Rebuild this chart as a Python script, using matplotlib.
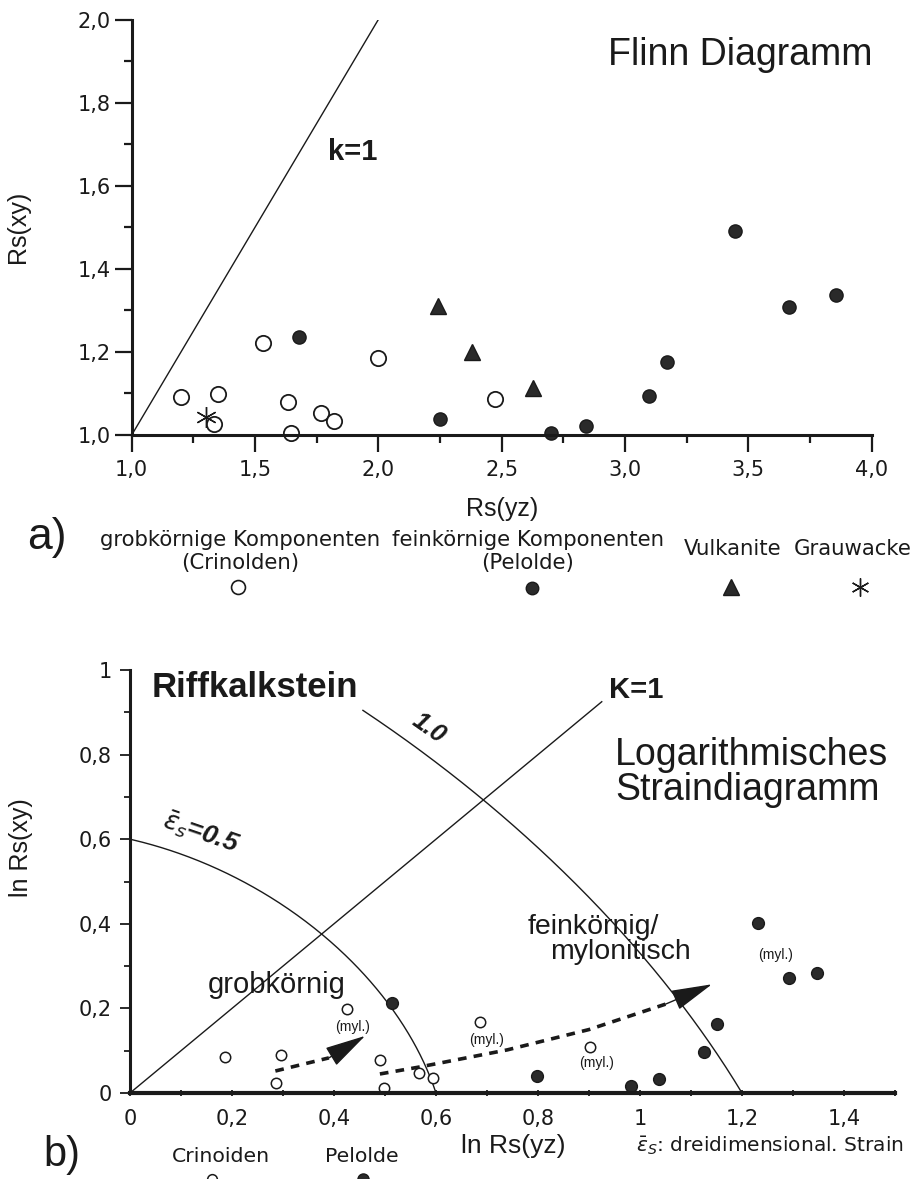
import numpy as np
import matplotlib.pyplot as plt
from matplotlib.ticker import MultipleLocator

plt.rcParams['font.family'] = ['Liberation Sans', 'DejaVu Sans']
plt.rcParams['mathtext.fontset'] = 'dejavusans'

# ---- a) Flinn diagram data (read from the figure)
grob_x = [1.20, 1.351, 1.335, 1.534, 1.635, 1.646, 1.767, 1.820, 2.0, 2.473]
grob_y = [1.092, 1.098, 1.026, 1.222, 1.080, 1.006, 1.052, 1.034, 1.186, 1.086]
fein_x = [1.678, 2.25, 2.700, 2.842, 3.097, 3.171, 3.446, 3.663, 3.854]
fein_y = [1.236, 1.038, 1.004, 1.022, 1.094, 1.176, 1.490, 1.307, 1.337]
vulk_x = [2.240, 2.381, 2.628]
vulk_y = [1.310, 1.199, 1.114]
grau_x = [1.301]
grau_y = [1.044]

top_xticks = [1.0, 1.5, 2.0, 2.5, 3.0, 3.5, 4.0]
top_xlabels = ['1,0', '1,5', '2,0', '2,5', '3,0', '3,5', '4,0']
top_yticks = [1.0, 1.2, 1.4, 1.6, 1.8, 2.0]
top_ylabels = ['1,0', '1,2', '1,4', '1,6', '1,8', '2,0']

# ---- b) logarithmic strain diagram data
crin_x = [0.186, 0.297, 0.286, 0.426, 0.490, 0.498, 0.567, 0.595, 0.686, 0.901]
crin_y = [0.084, 0.090, 0.024, 0.199, 0.078, 0.013, 0.048, 0.035, 0.169, 0.108]
pel_x = [0.513, 0.798, 0.983, 1.037, 1.125, 1.150, 1.232, 1.293, 1.348]
pel_y = [0.212, 0.040, 0.016, 0.033, 0.098, 0.162, 0.403, 0.272, 0.284]

# trend paths (dashed, last point = arrow tip)
trend1_x = [0.285, 0.39, 0.461]
trend1_y = [0.052, 0.083, 0.135]
trend2_x = [0.49, 0.57, 0.74, 0.90, 1.05, 1.141]
trend2_y = [0.045, 0.062, 0.102, 0.150, 0.210, 0.257]

# strain contours: axis intercept, shape term, start x
strain_labels = ['0.5', '1.0']
strain_axis = [0.6, 1.2]
strain_shape = [0.55, 1.0]
strain_start = [0.0, 0.456]
k_line_end = 0.925

myl_x = [0.437, 0.699, 0.914, 1.265]
myl_y = [0.157, 0.125, 0.071, 0.326]

bot_xticks = [0, 0.2, 0.4, 0.6, 0.8, 1.0, 1.2, 1.4]
bot_xlabels = ['0', '0,2', '0,4', '0,6', '0,8', '1', '1,2', '1,4']
bot_yticks = [0, 0.2, 0.4, 0.6, 0.8, 1.0]
bot_ylabels = ['0', '0,2', '0,4', '0,6', '0,8', '1']

W, H = 921, 1179
fig = plt.figure(figsize=(W / 100, H / 100), dpi=100)
ink = '#1a1a1a'
legfont = 'DejaVu Sans'

# ================= a) =================
ax1 = fig.add_axes([131.7 / W, 1 - 435 / H, 740 / W, 415.5 / H])
ax1.set_xlim(1, 4)
ax1.set_ylim(1, 2)
for s in ['top', 'right']:
    ax1.spines[s].set_visible(False)
for s in ['left', 'bottom']:
    ax1.spines[s].set_linewidth(2.2)
    ax1.spines[s].set_color(ink)
ax1.set_xticks(top_xticks)
ax1.set_xticklabels(top_xlabels)
ax1.set_yticks(top_yticks)
ax1.set_yticklabels(top_ylabels)
ax1.xaxis.set_minor_locator(MultipleLocator(0.25))
ax1.yaxis.set_minor_locator(MultipleLocator(0.1))
ax1.tick_params(which='major', length=12, width=1.6, color=ink,
                labelsize=15, labelcolor=ink)
ax1.tick_params(which='minor', length=6, width=1.6, color=ink)
ax1.tick_params(axis='x', pad=6)
ax1.tick_params(axis='y', pad=3)
for lab in ax1.get_xticklabels() + ax1.get_yticklabels():
    lab.set_family(legfont)

ax1.plot([1, 2], [1, 2], color=ink, lw=1.0)
ax1.plot(grob_x, grob_y, 'o', ms=11, mfc='white', mec=ink, mew=1.3, clip_on=False)
ax1.plot(fein_x, fein_y, 'o', ms=9.5, mfc='#2a2a2a', mec=ink, mew=1, clip_on=False)
ax1.plot(vulk_x, vulk_y, '^', ms=12, mfc='#2a2a2a', mec=ink, mew=1, clip_on=False)
ax1.plot(grau_x, grau_y, marker=(6, 2, 0), ls='none', ms=15, mec=ink, mew=1.0)

ax1.text(1.897, 1.680, 'k=1', fontsize=21, fontweight='bold', ha='center',
         va='center', color=ink)
ax1.text(3.466, 1.915, 'Flinn Diagramm', fontsize=27, ha='center', va='center',
         color=ink)
ax1.set_xlabel('Rs(yz)', fontsize=18, color=ink, labelpad=12)
ax1.set_ylabel('Rs(xy)', fontsize=18, color=ink)
ax1.yaxis.set_label_coords(-0.138, 0.5)

# legend a)
fig.text(47 / W, 1 - 538 / H, 'a)', fontsize=32, ha='center', va='center', color=ink)
leg_a = [(240, 'grobkörnige Komponenten', '(Crinolden)'),
         (528, 'feinkörnige Komponenten', '(Pelolde)')]
for x, l1, l2 in leg_a:
    fig.text(x / W, 1 - 540 / H, l1, fontsize=15.3, ha='center', va='center',
             family=legfont, color=ink)
    fig.text(x / W, 1 - 563 / H, l2, fontsize=15.3, ha='center', va='center',
             family=legfont, color=ink)
fig.text(733 / W, 1 - 549 / H, 'Vulkanite', fontsize=15.3, ha='center', va='center',
         family=legfont, color=ink)
fig.text(853 / W, 1 - 549 / H, 'Grauwacke', fontsize=15.3, ha='center', va='center',
         family=legfont, color=ink)
fig.lines.extend([
    plt.Line2D([238 / W], [1 - 587 / H], marker='o', ms=10, mfc='white', mec=ink,
               mew=1.2, transform=fig.transFigure),
    plt.Line2D([532 / W], [1 - 588 / H], marker='o', ms=9, mfc='#2a2a2a', mec=ink,
               transform=fig.transFigure),
    plt.Line2D([731 / W], [1 - 587 / H], marker='^', ms=11, mfc='#2a2a2a', mec=ink,
               transform=fig.transFigure),
    plt.Line2D([860 / W], [1 - 587 / H], marker=(6, 2, 0), ms=13, mec=ink, mew=1,
               transform=fig.transFigure),
])

# ================= b) =================
ax2 = fig.add_axes([130 / W, 1 - 1093 / H, 765 / W, 423 / H])
ax2.set_xlim(0, 1.5)
ax2.set_ylim(0, 1.0)
for s in ['top', 'right']:
    ax2.spines[s].set_visible(False)
ax2.spines['left'].set_linewidth(2.2)
ax2.spines['bottom'].set_linewidth(3.0)
ax2.spines['left'].set_color(ink)
ax2.spines['bottom'].set_color(ink)
ax2.set_xticks(bot_xticks)
ax2.set_xticklabels(bot_xlabels)
ax2.set_yticks(bot_yticks)
ax2.set_yticklabels(bot_ylabels)
ax2.xaxis.set_minor_locator(MultipleLocator(0.1))
ax2.yaxis.set_minor_locator(MultipleLocator(0.1))
ax2.tick_params(axis='y', which='major', length=7, width=1.3, color=ink, pad=6)
ax2.tick_params(axis='y', which='minor', length=4, width=1.3, color=ink)
ax2.tick_params(axis='x', which='both', direction='inout', length=5, width=1.3,
                color=ink, pad=9)
ax2.tick_params(which='major', labelsize=15, labelcolor=ink)
for lab in ax2.get_xticklabels() + ax2.get_yticklabels():
    lab.set_family(legfont)

# K=1 line
ax2.plot([0, k_line_end], [0, k_line_end], color=ink, lw=1.0)
# strain contours  x^2 + k*x*y + y^2 = R^2
t = np.linspace(0, np.pi / 2, 300)
for R, k, x0 in zip(strain_axis, strain_shape, strain_start):
    r = R / np.sqrt(1 + k * np.cos(t) * np.sin(t))
    cx, cy = r * np.cos(t), r * np.sin(t)
    m = cx >= x0
    ax2.plot(cx[m], cy[m], color=ink, lw=1.0)

ax2.text(0.14, 0.617, r'$\bar{\epsilon}_s$=' + strain_labels[0], fontsize=19,
         fontweight='bold', style='italic', rotation=-19, ha='center',
         va='center', color=ink)
ax2.text(0.585, 0.862, strain_labels[1], fontsize=18, fontweight='bold',
         style='italic', rotation=-35, ha='center', va='center', color=ink)
ax2.text(0.992, 0.953, 'K=1', fontsize=21, fontweight='bold', ha='center',
         va='center', color=ink)
ax2.text(0.043, 0.958, 'Riffkalkstein', fontsize=25, fontweight='bold',
         ha='left', va='center', color=ink)
ax2.text(0.951, 0.800, 'Logarithmisches', fontsize=27, ha='left', va='center',
         color=ink)
ax2.text(0.951, 0.716, 'Straindiagramm', fontsize=27, ha='left', va='center',
         color=ink)
ax2.text(0.288, 0.255, 'grobkörnig', fontsize=21, ha='center', va='center',
         color=ink)
ax2.text(0.780, 0.392, 'feinkörnig/', fontsize=20.5, ha='left', va='center',
         color=ink)
ax2.text(0.8235, 0.333, 'mylonitisch', fontsize=20.5, ha='left', va='center',
         color=ink)
for x, y in zip(myl_x, myl_y):
    ax2.text(x, y, '(myl.)', fontsize=10, ha='center', va='center', color=ink)

ax2.plot(crin_x, crin_y, 'o', ms=7.5, mfc='white', mec=ink, mew=1.1, clip_on=False)
ax2.plot(pel_x, pel_y, 'o', ms=8.5, mfc='#2a2a2a', mec=ink, mew=1, clip_on=False)

for tx, ty in [(trend1_x, trend1_y), (trend2_x, trend2_y)]:
    ax2.plot(tx[:-1], ty[:-1], color=ink, lw=2.6, dashes=(2.4, 2.0))
    ax2.annotate('', xy=(tx[-1], ty[-1]), xytext=(tx[-2], ty[-2]),
                 arrowprops=dict(arrowstyle='-|>,head_length=1.3,head_width=0.33',
                                 mutation_scale=20, color=ink, lw=1,
                                 shrinkA=0, shrinkB=0))

ax2.set_ylabel('ln Rs(xy)', fontsize=18, color=ink)
ax2.yaxis.set_label_coords(-0.127, 0.58)
fig.text(513 / W, 1 - 1146 / H, 'ln Rs(yz)', fontsize=19, ha='center', va='center',
         color=ink)
fig.text(770 / W, 1 - 1146 / H, r'$\bar{\epsilon}_S$: dreidimensional. Strain',
         fontsize=14.5, ha='center', va='center', family=legfont, color=ink)
fig.text(62 / W, 1 - 1155 / H, 'b)', fontsize=30, ha='center', va='center', color=ink)
fig.text(221 / W, 1 - 1157 / H, 'Crinoiden', fontsize=14.7, ha='center', va='center',
         family=legfont, color=ink)
fig.text(362 / W, 1 - 1157 / H, 'Pelolde', fontsize=14.7, ha='center', va='center',
         family=legfont, color=ink)
fig.lines.extend([
    plt.Line2D([212 / W], [1 - 1179 / H], marker='o', ms=7, mfc='white', mec=ink,
               mew=1.1, transform=fig.transFigure),
    plt.Line2D([363 / W], [1 - 1179 / H], marker='o', ms=8, mfc='#2a2a2a', mec=ink,
               transform=fig.transFigure),
])

fig.savefig('out.png', dpi=100, facecolor='white')
